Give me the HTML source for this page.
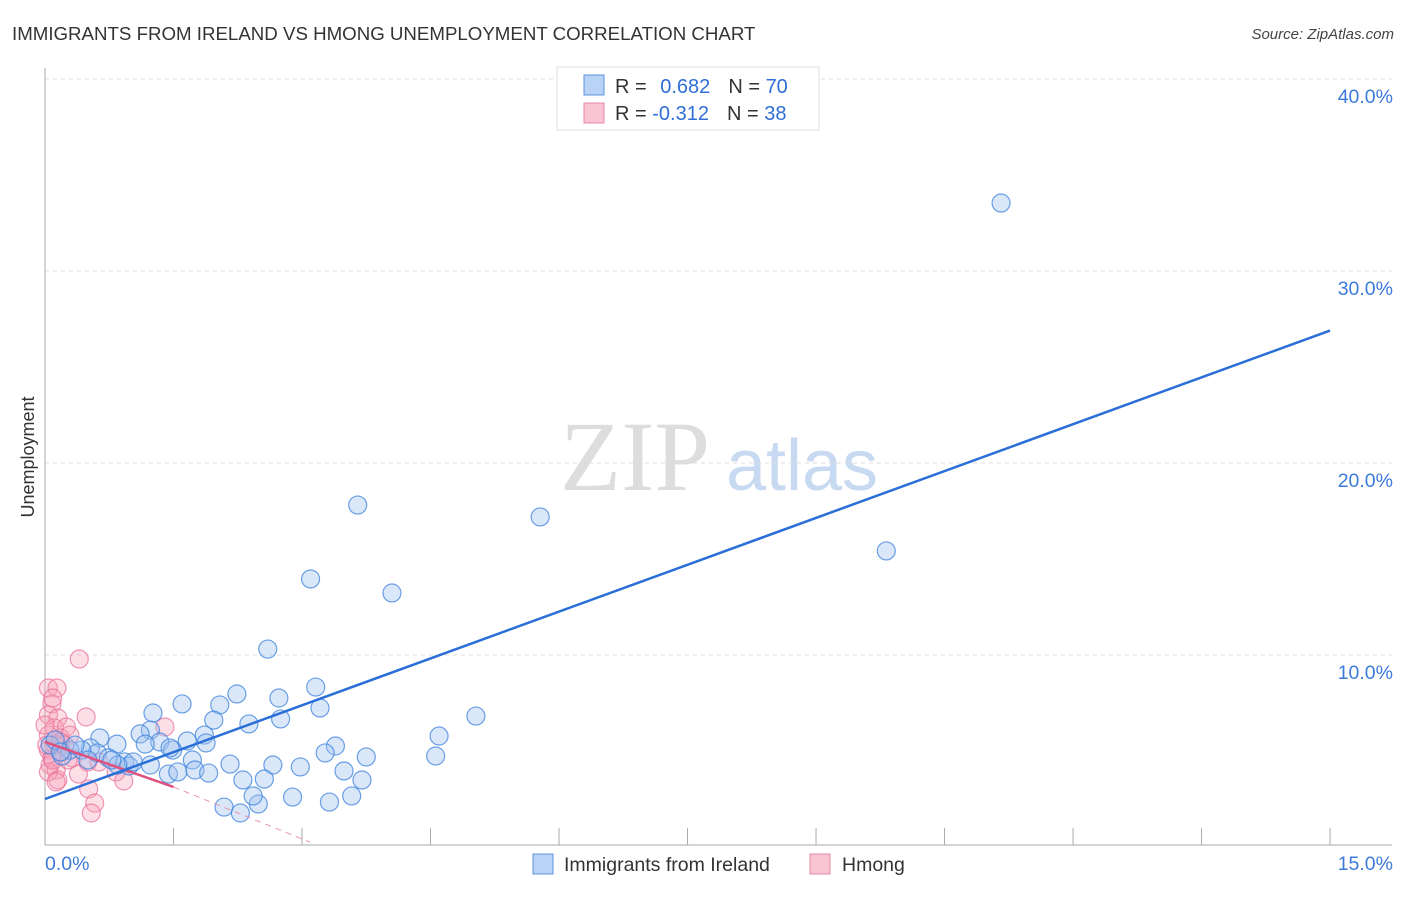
<!DOCTYPE html>
<html><head><meta charset="utf-8"><style>
body{margin:0;background:#fff;font-family:"Liberation Sans",sans-serif;}
</style></head><body>
<svg id="chart" width="1406" height="892" xmlns="http://www.w3.org/2000/svg" font-family="Liberation Sans, sans-serif">
<text x="12" y="40" font-size="18.7" fill="#333">IMMIGRANTS FROM IRELAND VS HMONG UNEMPLOYMENT CORRELATION CHART</text>
<text x="1394" y="39" font-size="15" fill="#444" font-style="italic" text-anchor="end">Source: ZipAtlas.com</text>
<text x="635" y="490" font-size="100" fill="#ddd" font-family="Liberation Serif, serif" text-anchor="middle">ZIP</text>
<text x="802" y="490" font-size="72" fill="#c8daf2" text-anchor="middle">atlas</text>
<text x="34" y="457" font-size="18" fill="#333" text-anchor="middle" transform="rotate(-90 34 457)">Unemployment</text>
<g id="grid"></g><g id="axes"></g><g id="marks"></g>
<g>
<rect x="557" y="67" width="262" height="63" fill="#fff" stroke="#ddd"/>
<rect x="584" y="75" width="20" height="20" fill="#b8d3f5" stroke="#5b93e0"/>
<rect x="584" y="103" width="20" height="20" fill="#f9c5d4" stroke="#e888a6"/>
<text x="615" y="93" font-size="20" fill="#333">R = <tspan fill="#2f6fd6" dx="8">0.682</tspan><tspan dx="18" fill="#333">N = </tspan><tspan fill="#2f6fd6">70</tspan></text>
<text x="615" y="120" font-size="20" fill="#333">R = <tspan fill="#2f6fd6">-0.312</tspan><tspan dx="18" fill="#333">N = </tspan><tspan fill="#2f6fd6">38</tspan></text>
</g>
<g>
<rect x="533" y="854" width="20" height="20" fill="#b8d3f5" stroke="#5b93e0"/>
<text x="564" y="871" font-size="19.5" fill="#333">Immigrants from Ireland</text>
<rect x="810" y="854" width="20" height="20" fill="#f9c5d4" stroke="#e888a6"/>
<text x="842" y="871" font-size="19.5" fill="#333">Hmong</text>
</g>
</svg>
<script>
const blueX=[11.16,3.65,5.78,9.82,3.10,4.05,2.60,3.16,5.03,2.24,2.73,1.60,1.26,2.04,3.21,1.97,2.38,2.75,4.60,1.23,0.64,1.11,1.34,1.17,1.49,1.66,1.86,1.88,3.39,3.27,3.75,4.56,0.84,0.53,0.61,0.43,0.29,0.20,0.74,0.93,0.98,1.03,0.85,1.72,2.16,2.66,2.98,1.44,1.55,1.75,1.91,2.31,2.56,3.49,3.70,2.09,2.28,2.49,2.43,2.89,3.32,3.58,0.06,0.12,0.18,0.35,0.50,0.78,1.23,1.46];
const blueY=[33.54,17.81,17.19,15.42,13.96,13.23,10.31,8.33,6.82,7.97,7.76,7.45,6.98,7.40,7.24,6.61,6.41,6.67,5.78,6.09,5.68,5.89,5.47,5.36,5.05,5.52,5.83,5.42,5.26,4.90,4.69,4.74,5.36,5.16,4.90,5.05,5.05,4.74,4.64,4.43,4.22,4.43,4.27,4.53,4.32,4.27,4.17,3.80,3.91,4.01,3.85,3.49,3.54,3.96,3.49,2.08,1.77,2.24,2.66,2.60,2.34,2.66,5.31,5.57,4.95,5.31,4.53,4.53,4.27,5.16];
const pinkX=[0.40,0.04,0.14,0.08,0.04,0.15,0.48,0.11,0.25,0.04,0.18,0.29,0.12,0.04,0.20,0.08,0.32,0.06,0.13,0.39,0.04,0.15,0.50,0.63,0.83,0.92,0.51,0.58,0.54,1.40,0.02,0.09,0.23,0.00,0.18,0.09,0.27,0.13];
const pinkY=[9.79,8.28,8.28,7.45,6.88,6.72,6.77,6.20,6.25,5.83,5.68,5.83,5.31,5.05,4.95,4.64,4.64,4.27,4.01,3.80,3.91,3.49,4.43,4.43,3.91,3.44,3.02,2.29,1.77,6.25,5.31,4.53,5.31,6.35,5.47,7.76,4.53,3.39];
const blueTrend=[[0,2.5],[15,26.9]];
const pinkTrendSolid=[[0,5.47],[1.5,3.13]];
const pinkTrendDash=[[1.5,3.13],[3.09,0.26]];
const yTicks=[10,20,30,40];
const xTickVals=[0,1.5,3,4.5,6,7.5,9,10.5,12,13.5,15];
const NS="http://www.w3.org/2000/svg";
const sx=v=>45+v*85.67, sy=v=>847-v*19.2;
function mk(t,a,p){const e=document.createElementNS(NS,t);for(const k in a)e.setAttribute(k,a[k]);p.appendChild(e);return e;}
const grid=document.getElementById('grid'),axes=document.getElementById('axes'),marks=document.getElementById('marks');
yTicks.forEach(v=>{
 const l=mk('line',{x1:45,x2:1392,y1:sy(v),y2:sy(v),stroke:'#ddd','stroke-dasharray':'4,4'},grid);
 
 
 const t=mk('text',{x:1393,y:sy(v)+24,'font-size':19.5,fill:'#3d7bd9','text-anchor':'end'},axes);
 t.textContent=v.toFixed(1)+'%';
 
 
});
const ya=mk('line',{x1:45,x2:45,y1:68,y2:845,stroke:'#aaa'},axes);


const xa=mk('line',{x1:45,x2:1392,y1:845,y2:845,stroke:'#aaa'},axes);


xTickVals.forEach(v=>{
 const l=mk('line',{x1:sx(v),x2:sx(v),y1:828,y2:845,stroke:'#aaa'},axes);
 
 
});
const xl0=mk('text',{x:45,y:870,'font-size':19.5,fill:'#3d7bd9'},axes);xl0.textContent='0.0%';


const xl1=mk('text',{x:1393,y:870,'font-size':19.5,fill:'#3d7bd9','text-anchor':'end'},axes);xl1.textContent='15.0%';


function pts(X,Y,fill,stroke,name){X.forEach((x,i)=>{
 const c=mk('circle',{cx:sx(x),cy:sy(Y[i]),r:9,fill:fill,stroke:stroke,'stroke-width':1.2},marks);
 
 
});}
pts(pinkX,pinkY,'rgba(245,160,185,0.35)','rgba(232,110,150,0.7)','hmong-point');
pts(blueX,blueY,'rgba(160,196,240,0.4)','rgba(60,130,220,0.75)','ireland-point');
function ln(p,st,w,d,name){const l=mk('line',{x1:sx(p[0][0]),y1:sy(p[0][1]),x2:sx(p[1][0]),y2:sy(p[1][1]),stroke:st,'stroke-width':w},marks);
 if(d)l.setAttribute('stroke-dasharray',d);
 
 }
ln(pinkTrendSolid,'#e0507f',2.5,null,'hmong-trend-line');
ln(pinkTrendDash,'#e891ad',1,'6,5','hmong-trend-extension');
ln(blueTrend,'#2a6fd8',2.5,null,'ireland-trend-line');
</script>
</body></html>
